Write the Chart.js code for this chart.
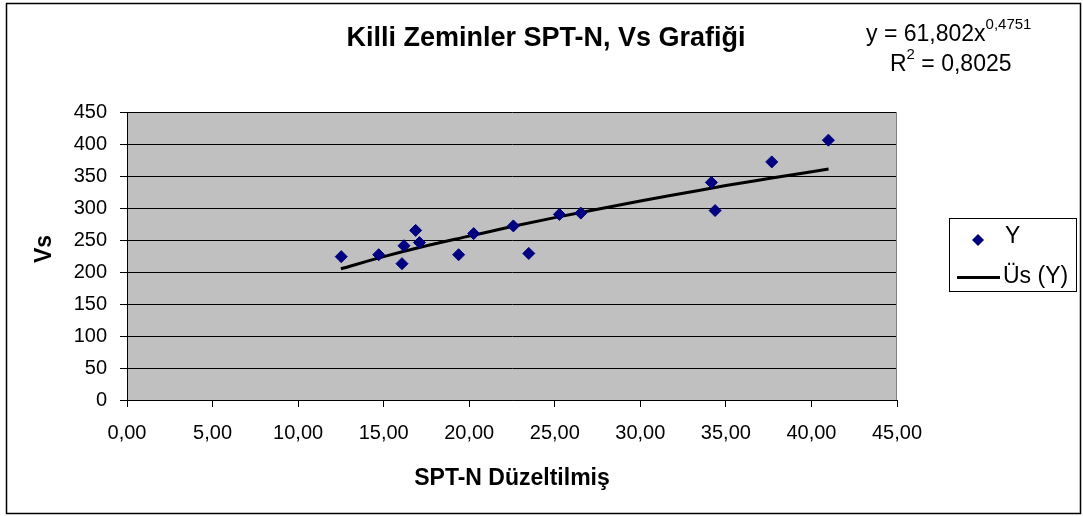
<!DOCTYPE html>
<html>
<head>
<meta charset="utf-8">
<script src="https://cdn.jsdelivr.net/npm/chart.js@4/dist/chart.umd.min.js"></script>
<style>
html,body{margin:0;padding:0;background:#fff;}
#wrap{position:relative;width:1083px;height:516px;}
canvas{display:block;}
</style>
</head>
<body>
<div id="wrap"><canvas id="c" width="1083" height="516"></canvas></div>
<script>
// ---- data ----
const sptN = [12.52, 14.71, 16.19, 16.07, 16.87, 17.09, 19.38, 20.26, 22.58, 23.48, 25.27, 26.52, 34.15, 34.37, 37.68, 40.99];
const vsValues = [224, 227, 241, 213, 265, 246, 227, 260, 272, 229, 290, 292, 340, 296, 372, 406];
const trendX = [12.5, 15, 17.5, 20, 22.5, 25, 27.5, 30, 32.5, 35, 37.5, 41];
const trendY = [205, 224, 241, 256, 271, 285, 298, 311, 323, 335, 346, 361];
const xTicks = [0, 5, 10, 15, 20, 25, 30, 35, 40, 45];
const yTicks = [0, 50, 100, 150, 200, 250, 300, 350, 400, 450];
const titleText = 'Killi Zeminler SPT-N, Vs Grafiği';
const xTitle = 'SPT-N Düzeltilmiş';
const yTitle = 'Vs';
const seriesName = 'Y';
const trendName = 'Üs (Y)';
const eqMain = 'y = 61,802x';
const eqExp = '0,4751';
const r2Value = '0,8025';

const FONT = '"Liberation Sans", Arial, sans-serif';
const MARK = '#000080';

const decor = {
  id: 'decor',
  beforeDraw(chart) {
    const {ctx, chartArea: a} = chart;
    ctx.save();
    ctx.fillStyle = '#fff';
    ctx.fillRect(0, 0, chart.width, chart.height);
    ctx.fillStyle = '#C0C0C0';
    ctx.fillRect(a.left, a.top, a.right - a.left, a.bottom - a.top);
    ctx.restore();
  },
  afterDraw(chart) {
    const {ctx, chartArea: a} = chart;
    ctx.save();
    // plot area right edge
    ctx.strokeStyle = '#808080';
    ctx.lineWidth = 1;
    ctx.beginPath();
    ctx.moveTo(Math.round(a.right) - 0.5, a.top);
    ctx.lineTo(Math.round(a.right) - 0.5, a.bottom);
    ctx.stroke();
    // outer frame
    ctx.strokeStyle = '#000';
    ctx.lineWidth = 1.5;
    ctx.strokeRect(6.5, 3.5, 1074, 510);
    ctx.fillStyle = '#000';
    // title
    ctx.font = 'bold 27px ' + FONT;
    ctx.textAlign = 'center';
    ctx.textBaseline = 'middle';
    ctx.fillText(titleText, 546, 39);
    // axis titles
    ctx.font = 'bold 23px ' + FONT;
    ctx.fillText(xTitle, (a.left + a.right) / 2, 479);
    ctx.save();
    ctx.translate(45, 249);
    ctx.rotate(-Math.PI / 2);
    ctx.fillText(yTitle, 0, 0);
    ctx.restore();
    // equation
    ctx.textAlign = 'left';
    ctx.textBaseline = 'alphabetic';
    ctx.font = '23px ' + FONT;
    let x = 866;
    ctx.fillText(eqMain, x, 41);
    x += ctx.measureText(eqMain).width;
    ctx.font = '15px ' + FONT;
    ctx.fillText(eqExp, x, 29);
    ctx.font = '23px ' + FONT;
    x = 890;
    ctx.fillText('R', x, 71);
    x += ctx.measureText('R').width;
    ctx.font = '15px ' + FONT;
    ctx.fillText('2', x, 59);
    x += ctx.measureText('2').width;
    ctx.font = '23px ' + FONT;
    ctx.fillText(' = ' + r2Value, x, 71);
    // legend
    ctx.strokeStyle = '#000';
    ctx.lineWidth = 1;
    ctx.strokeRect(949.5, 218.5, 127, 73);
    ctx.fillStyle = MARK;
    ctx.beginPath();
    ctx.moveTo(978, 234); ctx.lineTo(984, 240); ctx.lineTo(978, 246); ctx.lineTo(972, 240);
    ctx.closePath(); ctx.fill();
    ctx.strokeStyle = '#000';
    ctx.lineWidth = 3;
    ctx.beginPath(); ctx.moveTo(957, 277.5); ctx.lineTo(1000, 277.5); ctx.stroke();
    ctx.fillStyle = '#000';
    ctx.font = '23px ' + FONT;
    ctx.textBaseline = 'middle';
    ctx.fillText(seriesName, 1005, 237);
    ctx.fillText(trendName, 1003, 277);
    ctx.restore();
  }
};

new Chart(document.getElementById('c'), {
  type: 'scatter',
  data: {
    datasets: [
      {
        label: seriesName,
        data: sptN.map((v, i) => ({x: v, y: vsValues[i]})),
        pointStyle: 'rectRot',
        pointRadius: 6,
        pointBackgroundColor: MARK,
        pointBorderColor: MARK,
        pointBorderWidth: 1,
        showLine: false,
        order: 1
      },
      {
        label: trendName,
        data: trendX.map((v, i) => ({x: v, y: trendY[i]})),
        showLine: true,
        borderColor: '#000',
        borderWidth: 3,
        pointRadius: 0,
        cubicInterpolationMode: 'monotone',
        fill: false,
        order: 2
      }
    ]
  },
  options: {
    responsive: false,
    animation: false,
    devicePixelRatio: 1,
    layout: {padding: {left: 0, top: 112, right: 186, bottom: 66}},
    plugins: {legend: {display: false}, title: {display: false}, tooltip: {enabled: false}},
    scales: {
      x: {
        type: 'linear', min: 0, max: 45,
        afterBuildTicks: s => { s.ticks = xTicks.map(v => ({value: v})); },
        afterFit: s => { s.height = 50; },
        ticks: {
          color: '#000', font: {family: FONT, size: 20}, padding: 14, maxRotation: 0, autoSkip: false,
          callback: v => v.toFixed(2).replace('.', ',')
        },
        grid: {drawOnChartArea: false, drawTicks: true, tickLength: 7, color: '#000', lineWidth: 1},
        border: {display: true, color: '#000', width: 1}
      },
      y: {
        type: 'linear', min: 0, max: 450,
        afterBuildTicks: s => { s.ticks = yTicks.map(v => ({value: v})); },
        afterFit: s => { s.width = 127; },
        ticks: {color: '#000', font: {family: FONT, size: 20}, padding: 13, autoSkip: false},
        grid: {drawOnChartArea: true, drawTicks: true, tickLength: 7, color: '#000', lineWidth: 1},
        border: {display: true, color: '#000', width: 1}
      }
    }
  },
  plugins: [decor]
});
</script>
</body>
</html>
